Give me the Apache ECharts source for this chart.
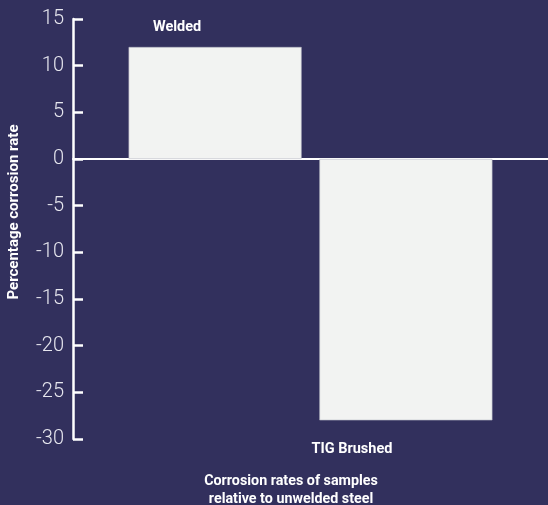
<!DOCTYPE html>
<html>
<head>
<meta charset="utf-8">
<script src="https://cdn.jsdelivr.net/npm/echarts@6/dist/echarts.min.js"></script>
<style>
html,body{margin:0;padding:0;background:#32305d;}
#c{width:548px;height:505px;}
</style>
</head>
<body>
<div id="c"></div>
<script>
var categories = ['Welded', 'TIG Brushed'];
var weldedValues = [12, null];
var tigValues = [null, -28];
var yTicks = { min: -30, max: 15, step: 5 };
var yName = 'Percentage corrosion rate';
var xTitle = 'Corrosion rates of samples\nrelative to unwelded steel';

var chart = echarts.init(document.getElementById('c'));
var barStyle = { color: '#f2f3f2', borderColor: '#b9bac6', borderWidth: 0.6 };
var labelStyle = { show: true, color: '#ffffff', fontFamily: 'Roboto', fontWeight: 'bold', fontSize: 14.5,
  formatter: function (p) { return p.name; } };

chart.setOption({
  backgroundColor: '#32305d',
  animation: false,
  title: {
    text: xTitle,
    left: 286, top: 468, textAlign: 'center',
    textStyle: { color: '#ffffff', fontFamily: 'Roboto', fontWeight: 'bold', fontSize: 14.3, lineHeight: 17.5 }
  },
  grid: { left: 73, right: 0, top: 19, bottom: 66, containLabel: false, outerBoundsMode: 'none' },
  xAxis: {
    type: 'category',
    data: categories,
    axisLine: { onZero: true, lineStyle: { color: '#ffffff', width: 2 } },
    axisTick: { show: false },
    axisLabel: { show: false },
    splitLine: { show: false }
  },
  yAxis: {
    type: 'value',
    min: yTicks.min, max: yTicks.max, interval: yTicks.step,
    name: yName,
    nameLocation: 'middle',
    nameGap: 51,
    nameTextStyle: { color: '#ffffff', fontFamily: 'Roboto', fontWeight: 'bold', fontSize: 15, padding: [0, 0, 0, 34] },
    axisLine: { show: true, lineStyle: { color: '#ffffff', width: 2.5 } },
    axisTick: { show: true, inside: true, length: 10, lineStyle: { color: '#ffffff', width: 2.5 } },
    axisLabel: { color: '#e6e6ee', fontFamily: 'Roboto', fontWeight: 300, fontSize: 20, margin: 9 },
    splitLine: { show: false }
  },
  series: [
    {
      type: 'bar', name: 'TIG Brushed', data: tigValues,
      barWidth: 173, barGap: '-73%',
      itemStyle: barStyle,
      label: Object.assign({}, labelStyle, { position: 'bottom', offset: [-54, 17] })
    },
    {
      type: 'bar', name: 'Welded', data: weldedValues,
      barWidth: 173, barGap: '-73%',
      itemStyle: barStyle,
      label: Object.assign({}, labelStyle, { position: 'top', offset: [-38, -7] })
    }
  ]
});
</script>
</body>
</html>
